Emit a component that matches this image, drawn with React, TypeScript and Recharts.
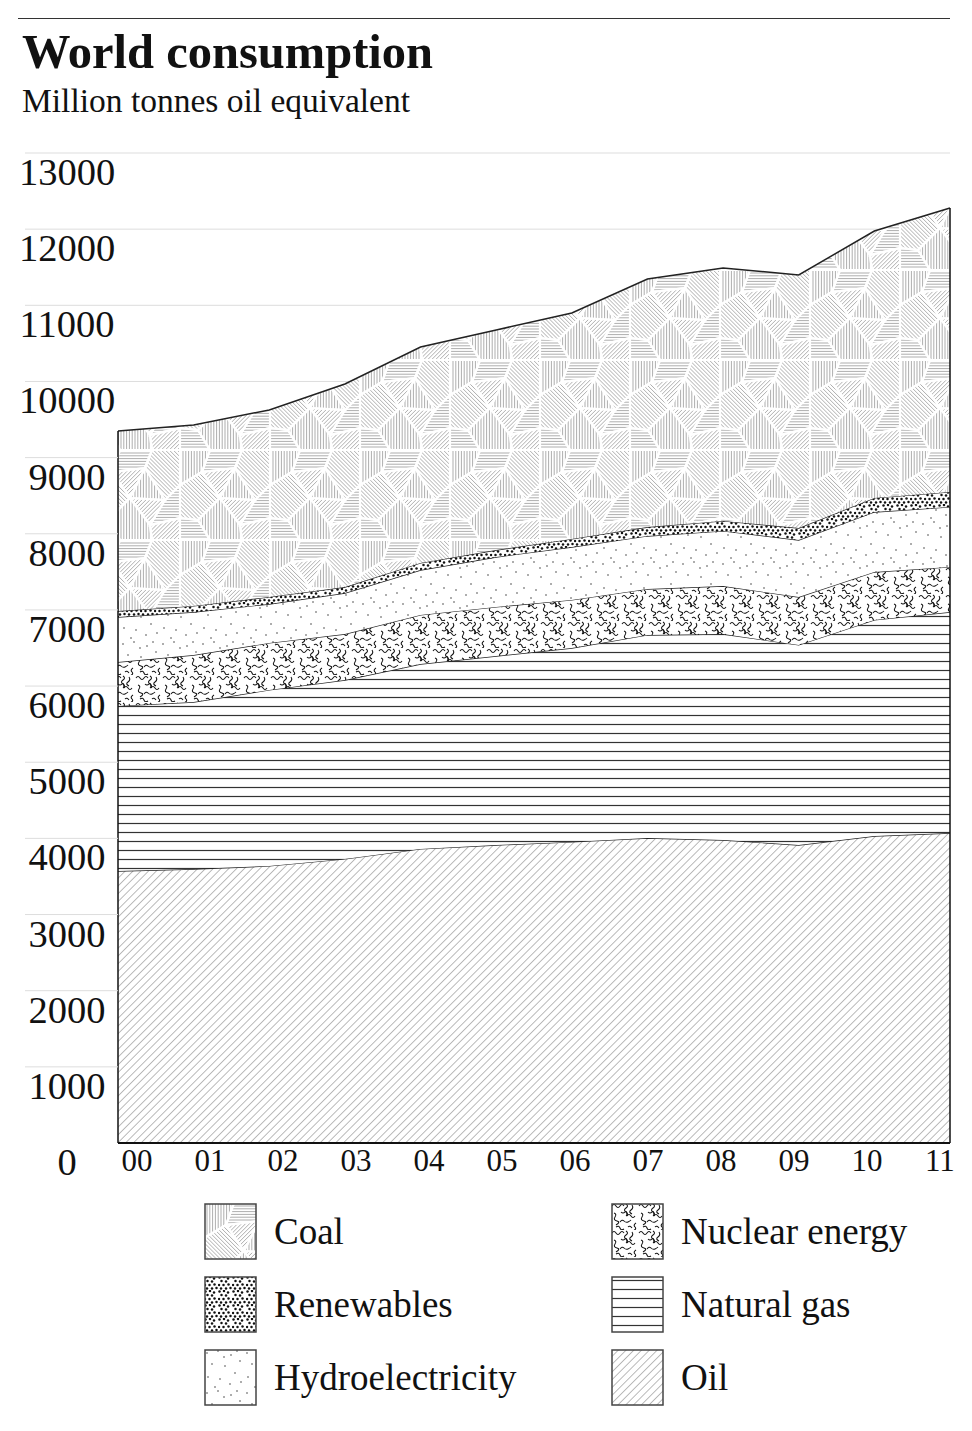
import React from 'react';
import { AreaChart, Area, XAxis, YAxis, CartesianGrid, ReferenceLine } from 'recharts';

const years = ['00', '01', '02', '03', '04', '05', '06', '07', '08', '09', '10', '11'];
const oil = [3572, 3598, 3638, 3730, 3861, 3913, 3953, 4005, 3979, 3913, 4031, 4071];
const gas = [2167, 2193, 2311, 2350, 2429, 2482, 2547, 2666, 2705, 2627, 2837, 2902];
const nuclear = [577, 617, 617, 604, 644, 644, 631, 604, 630, 630, 630, 591];
const hydro = [591, 565, 512, 538, 590, 656, 695, 696, 723, 748, 788, 788];
const renewables = [79, 79, 92, 79, 93, 92, 106, 118, 131, 158, 184, 197];
const coal = [2364, 2377, 2456, 2666, 2836, 2889, 2968, 3257, 3322, 3322, 3506, 3729];
const yTicks = [0, 1000, 2000, 3000, 4000, 5000, 6000, 7000, 8000, 9000, 10000, 11000, 12000, 13000];

const leftLegend = [
  { name: 'Coal', fill: 'url(#patCoal)' },
  { name: 'Renewables', fill: 'url(#patRen)' },
  { name: 'Hydroelectricity', fill: 'url(#patHydro)' },
];
const rightLegend = [
  { name: 'Nuclear energy', fill: 'url(#patNuc)' },
  { name: 'Natural gas', fill: 'url(#patGas)' },
  { name: 'Oil', fill: 'url(#patOil)' },
];

const data = years.map((year, i) => ({
  year,
  oil: oil[i],
  gas: gas[i],
  nuclear: nuclear[i],
  hydro: hydro[i],
  renewables: renewables[i],
  coal: coal[i],
}));
const totals = data.map((d) => d.oil + d.gas + d.nuclear + d.hydro + d.renewables + d.coal);

const FONT = '"Liberation Serif", "Times New Roman", serif';

// coal texture: irregular pieces of a 90px tile, each hatched in its own direction
const coalRegions = [
  { pts: '0,0 30,0 22,22 0,35', ang: 90 },
  { pts: '30,0 62,0 55,18 22,22', ang: 0 },
  { pts: '62,0 90,0 90,35 75,50 55,18', ang: 45 },
  { pts: '22,22 55,18 40,48', ang: -45 },
  { pts: '55,18 75,50 40,48', ang: 90 },
  { pts: '0,35 22,22 40,48 18,70 0,68', ang: 45 },
  { pts: '90,35 90,68 60,75 75,50', ang: 0 },
  { pts: '40,48 75,50 60,75', ang: -45 },
  { pts: '18,70 40,48 60,75 62,90 30,90', ang: 90 },
  { pts: '0,68 18,70 30,90 0,90', ang: 0 },
  { pts: '60,75 90,68 90,90 62,90', ang: -45 },
];

function hatch(key: string, ang: number, gap: number) {
  const a = (ang * Math.PI) / 180;
  const dx = Math.cos(a), dy = Math.sin(a);
  const px = -dy, py = dx;
  const out = [];
  for (let k = -30; k <= 30; k++) {
    const cx = 45 + px * gap * k, cy = 45 + py * gap * k;
    out.push(<line key={key + k} x1={cx - dx * 80} y1={cy - dy * 80} x2={cx + dx * 80} y2={cy + dy * 80} />);
  }
  return out;
}

const squiggles = [
  'M1 3 q2 -3 4 0 t4 0 t4 0',
  'M15 1 q3 2 0 4 t0 4 t0 4',
  'M24 13 q-2 3 -4 0 t-4 0',
  'M3 10 q3 1 1 4 t2 4 t-1 4',
  'M9 19 q2 -3 4 -1 t4 1 t3 -2',
  'M25 20 q-3 2 -1 4 t-2 4',
  'M21 2 q2 3 -1 5 t1 4',
  'M5 24 q3 -2 4 1 t4 1',
  'M10 9 q2 2 4 0 t2 4',
  'M17 24 q2 -2 4 1',
];

const hydroDots = [
  [3, 4], [14, 2], [27, 6], [36, 12], [8, 15], [21, 17], [31, 24], [4, 28], [16, 30], [26, 35], [37, 33], [11, 38], [33, 2], [20, 8],
];

const renDots = [
  [1.5, 1.5], [6, 1], [10, 2.5], [3.5, 5], [8, 5.5], [1, 9], [5.5, 9], [10.5, 8.5], [3, 12.5], [8, 12.5], [12.5, 12],
];

function Patterns() {
  return (
    <svg width={0} height={0} style={{ position: 'absolute' }}>
      <defs>
        <pattern id="patOil" width={5.5} height={5.5} patternUnits="userSpaceOnUse" patternTransform="rotate(45)">
          <rect width={5.5} height={5.5} fill="#fff" />
          <line x1={0} y1={0} x2={0} y2={5.5} stroke="#777" strokeWidth={1} />
        </pattern>
        <pattern id="patGas" width={10} height={9} patternUnits="userSpaceOnUse">
          <rect width={10} height={9} fill="#fff" />
          <line x1={0} y1={4.5} x2={10} y2={4.5} stroke="#333" strokeWidth={1.2} />
        </pattern>
        <pattern id="patNuc" width={27} height={27} patternUnits="userSpaceOnUse">
          <rect width={27} height={27} fill="#fff" />
          {squiggles.map((d, i) => (
            <path key={i} d={d} fill="none" stroke="#111" strokeWidth={1.05} />
          ))}
        </pattern>
        <pattern id="patHydro" width={40} height={40} patternUnits="userSpaceOnUse">
          <rect width={40} height={40} fill="#fff" />
          {hydroDots.map(([x, y], i) => (
            <circle key={i} cx={x} cy={y} r={0.75} fill="#333" />
          ))}
        </pattern>
        <pattern id="patRen" width={14} height={14} patternUnits="userSpaceOnUse">
          <rect width={14} height={14} fill="#fff" />
          {renDots.map(([x, y], i) => (
            <circle key={i} cx={x} cy={y} r={1.25} fill="#111" />
          ))}
        </pattern>
        {coalRegions.map((r, i) => (
          <clipPath key={i} id={'coalClip' + i}>
            <polygon points={r.pts} />
          </clipPath>
        ))}
        <pattern id="patCoal" width={90} height={90} patternUnits="userSpaceOnUse">
          <rect width={90} height={90} fill="#fff" />
          {coalRegions.map((r, i) => (
            <g key={i} clipPath={`url(#coalClip${i})`} stroke="#8a8a8a" strokeWidth={0.7}>
              {hatch('c' + i, r.ang, 2.8)}
            </g>
          ))}
          {coalRegions.map((r, i) => (
            <polygon key={'o' + i} points={r.pts} fill="none" stroke="#fff" strokeWidth={2.2} />
          ))}
        </pattern>
      </defs>
    </svg>
  );
}

const YTick = (props: any) => {
  const { y, payload } = props;
  return (
    <g>
      {payload.value > 0 && <line x1={25} x2={118} y1={y} y2={y} stroke="#ddd" strokeWidth={1} />}
      <text x={67} y={y + 32} textAnchor="middle" fontSize={38.5} fontFamily={FONT} fill="#111">
        {payload.value}
      </text>
    </g>
  );
};

const XTick = (props: any) => {
  const { x, y, payload, index } = props;
  const dx = 19 - 2.64 * index;
  return (
    <text x={x + dx} y={y + 20} textAnchor="middle" fontSize={31} fontFamily={FONT} fill="#111">
      {payload.value}
    </text>
  );
};

const LegendItem = ({ name, fill }: { name: string; fill: string }) => (
  <div style={{ display: 'flex', alignItems: 'center', height: 73 }}>
    <svg width={54} height={57} style={{ flex: 'none' }}>
      <rect x={1} y={1} width={51} height={55} fill={fill} stroke="#444" strokeWidth={1.5} />
    </svg>
    <span style={{ marginLeft: 16, fontSize: 37, fontFamily: FONT, color: '#111', lineHeight: 1 }}>{name}</span>
  </div>
);

export default function App() {
  return (
    <div style={{ position: 'relative', width: 972, height: 1431, margin: -8, background: '#fff', fontFamily: FONT }}>
      <Patterns />
      <div style={{ position: 'absolute', left: 18, top: 18, width: 932, borderTop: '1px solid #333' }} />
      <div style={{ position: 'absolute', left: 22, top: 28, fontSize: 48.5, fontWeight: 'bold', lineHeight: 1, color: '#111' }}>
        World consumption
      </div>
      <div style={{ position: 'absolute', left: 22, top: 84, fontSize: 33.5, lineHeight: 1, color: '#111' }}>
        Million tonnes oil equivalent
      </div>
      <div style={{ position: 'absolute', left: 0, top: 0 }}>
        <AreaChart width={972} height={1190} data={data} margin={{ top: 153, right: 22, left: 18, bottom: 7 }}>
          <CartesianGrid horizontal vertical={false} stroke="#ddd" />
          <XAxis
            dataKey="year"
            height={40}
            tickLine={false}
            axisLine={{ stroke: '#111', strokeWidth: 2 }}
            tick={<XTick />}
            interval={0}
          />
          <YAxis
            width={100}
            domain={[0, 13000]}
            ticks={yTicks}
            axisLine={false}
            tickLine={false}
            tick={<YTick />}
            interval={0}
          />
          <Area type="linear" dataKey="oil" stackId="1" stroke="#222" strokeWidth={1.3} fill="url(#patOil)" fillOpacity={1} isAnimationActive={false} />
          <Area type="linear" dataKey="gas" stackId="1" stroke="#222" strokeWidth={1.3} fill="url(#patGas)" fillOpacity={1} isAnimationActive={false} />
          <Area type="linear" dataKey="nuclear" stackId="1" stroke="#222" strokeWidth={1.3} fill="url(#patNuc)" fillOpacity={1} isAnimationActive={false} />
          <Area type="linear" dataKey="hydro" stackId="1" stroke="#222" strokeWidth={1.3} fill="url(#patHydro)" fillOpacity={1} isAnimationActive={false} />
          <Area type="linear" dataKey="renewables" stackId="1" stroke="#222" strokeWidth={1.3} fill="url(#patRen)" fillOpacity={1} isAnimationActive={false} />
          <Area type="linear" dataKey="coal" stackId="1" stroke="#222" strokeWidth={1.5} fill="url(#patCoal)" fillOpacity={1} isAnimationActive={false} />
          <ReferenceLine segment={[{ x: years[0], y: 0 }, { x: years[0], y: totals[0] }]} stroke="#111" strokeWidth={1.5} />
          <ReferenceLine
            segment={[{ x: years[years.length - 1], y: 0 }, { x: years[years.length - 1], y: totals[totals.length - 1] }]}
            stroke="#111"
            strokeWidth={1.5}
          />
        </AreaChart>
      </div>
      <div style={{ position: 'absolute', left: 204, top: 1195 }}>
        {leftLegend.map((l) => (
          <LegendItem key={l.name} {...l} />
        ))}
      </div>
      <div style={{ position: 'absolute', left: 611, top: 1195 }}>
        {rightLegend.map((l) => (
          <LegendItem key={l.name} {...l} />
        ))}
      </div>
    </div>
  );
}
